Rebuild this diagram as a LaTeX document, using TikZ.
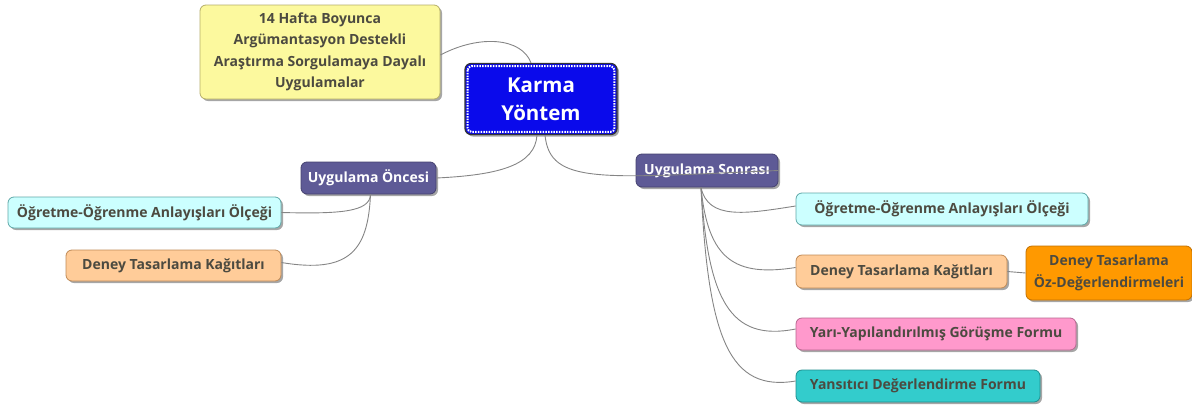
\documentclass[tikz,border=0pt]{standalone}
\usepackage{fontspec}
\setmainfont{Open Sans}
\usetikzlibrary{shadows}
\definecolor{ylw}{HTML}{FCF99E}
\definecolor{ylwb}{HTML}{B5AE6A}
\definecolor{cyn}{HTML}{CCFFFF}
\definecolor{cynb}{HTML}{5FA8A8}
\definecolor{pch}{HTML}{FFCC99}
\definecolor{pchb}{HTML}{C08A55}
\definecolor{prp}{HTML}{5E5A96}
\definecolor{prpb}{HTML}{45426F}
\definecolor{org}{HTML}{FF9900}
\definecolor{orgb}{HTML}{C27000}
\definecolor{pnk}{HTML}{FF99CC}
\definecolor{pnkb}{HTML}{B86690}
\definecolor{tel}{HTML}{33CCCC}
\definecolor{telb}{HTML}{1F8F8F}
\definecolor{blu}{HTML}{0A0AEB}
\definecolor{txt}{HTML}{4C4A40}
\definecolor{lnk}{HTML}{858585}
\tikzset{
  box/.style={rounded corners=6pt, line width=0.8pt, inner sep=0pt, align=center,
    text=txt, font=\bfseries\fontsize{14}{21.5}\selectfont,
    drop shadow={shadow xshift=2pt, shadow yshift=-2pt, opacity=0.35, fill=black}},
  mid/.style={box, fill=prp, draw=prpb, text=white},
  lnkline/.style={draw=lnk, line width=0.9pt},
}
\begin{document}
\begin{tikzpicture}[x=1pt,y=-1pt]
\useasboundingbox (0,0) rectangle (1192,405);

\node[box, fill=ylw, draw=ylwb, minimum width=240, minimum height=94] (y) at (320,52)
  {14 Hafta Boyunca\\Argümantasyon Destekli\\Araştırma Sorgulamaya Dayalı\\Uygulamalar};

\node[rounded corners=6pt, fill=blu, draw=black!80, line width=1.2pt, minimum width=152, minimum height=71,
  inner sep=0pt, align=center, text=white, font=\bfseries\fontsize{20.5}{28}\selectfont,
  drop shadow={shadow xshift=2pt, shadow yshift=-2pt, opacity=0.35, fill=black}] (k) at (541,99)
  {Karma\\Yöntem};
\draw[white, line width=2pt, dash pattern=on 1.5pt off 1.2pt, rounded corners=4pt]
  ([shift={(3.2,3.2)}]k.north west) rectangle ([shift={(-3.2,-3.2)}]k.south east);

\node[mid, minimum width=135, minimum height=32] (uo) at (368.5,178) {Uygulama Öncesi};
\node[mid, minimum width=142, minimum height=33] (us) at (707,170.5) {Uygulama Sonrası};

\node[box, fill=cyn, draw=cynb, minimum width=273, minimum height=31] (lo) at (144.5,212.5) {Öğretme-Öğrenme Anlayışları Ölçeği};
\node[box, fill=pch, draw=pchb, minimum width=215, minimum height=31] (ld) at (173.5,265.5) {Deney Tasarlama Kağıtları};

\node[box, fill=cyn, draw=cynb, minimum width=292, minimum height=32] (ro) at (942,209) {Öğretme-Öğrenme Anlayışları Ölçeği};
\node[box, fill=pch, draw=pchb, minimum width=211, minimum height=33] (rd) at (901.5,271.5) {Deney Tasarlama Kağıtları};
\node[box, fill=org, draw=orgb, minimum width=166, minimum height=54] (oz) at (1109,273) {Deney Tasarlama\\Öz-Değerlendirmeleri};
\node[box, fill=pnk, draw=pnkb, minimum width=280, minimum height=32] (pk) at (936,334) {Yarı-Yapılandırılmış Görüşme Formu};
\node[box, fill=tel, draw=telb, minimum width=244, minimum height=32] (tl) at (918,386) {Yansıtıcı Değerlendirme Formu};

\coordinate (kt) at ([xshift=-10]k.north);
\coordinate (kb1) at ([xshift=-4]k.south);
\coordinate (kb2) at ([xshift=4]k.south);
\coordinate (uob) at ([xshift=2]uo.south);
\coordinate (usb) at ([xshift=-6]us.south);
\coordinate (ye) at ([yshift=-3]y.east);

\draw[lnkline] (ye) .. controls (480,34) and (522,38) .. (kt);
\draw[lnkline] (kb1) .. controls (535,165) and (500,175) .. (uo.east);
\draw[lnkline] (kb2) .. controls (550,185) and (600,178) .. (us.east);

\draw[lnkline] (uob) .. controls (370,212) and (340,214) .. (lo.east);
\draw[lnkline] (uob) .. controls (368,250) and (350,274) .. ([yshift=3]ld.east);

\draw[lnkline] (usb) .. controls (708,220) and (745,214) .. ([yshift=3]ro.west);
\draw[lnkline] (usb) .. controls (708,260) and (735,277) .. ([yshift=4]rd.west);
\draw[lnkline] (usb) .. controls (708,300) and (730,342) .. ([yshift=5]pk.west);
\draw[lnkline] (usb) .. controls (708,340) and (730,392) .. ([yshift=5]tl.west);
\draw[lnkline] (rd.east) -- (oz.west);
\end{tikzpicture}
\end{document}
